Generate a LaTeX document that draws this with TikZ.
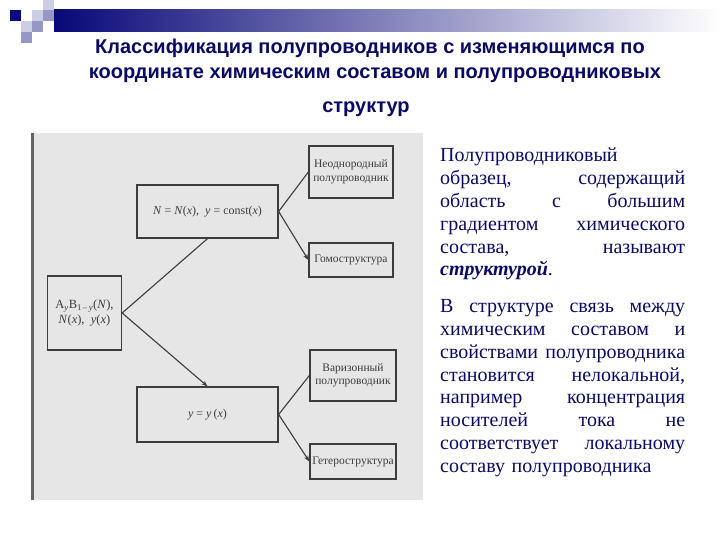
\documentclass[tikz,border=0pt]{standalone}
\usepackage{fontspec}
\setmainfont{Liberation Serif}
\newfontfamily\titlefont{Liberation Sans}
\usetikzlibrary{arrows.meta}
\definecolor{navytext}{RGB}{10,10,100}
\definecolor{barnavy}{RGB}{8,8,120}
\definecolor{sqnavy}{RGB}{10,10,130}
\definecolor{sqlight}{RGB}{205,205,230}
\definecolor{sqmid}{RGB}{150,150,200}
\definecolor{scanbg}{RGB}{230,230,230}
\definecolor{boxline}{RGB}{60,60,60}
\newcommand{\jl}[1]{\leavevmode\makebox[245pt][l]{#1}}
\newcommand{\gp}{\hfill\ }
\tikzset{
  schbox/.style={draw=boxline, line width=1.3pt, fill=scanbg, rectangle, inner sep=1pt, align=center, font=\fontsize{11.5}{13.5}\selectfont, text=boxline},
  conn/.style={draw=boxline, line width=1.1pt},
  arr/.style={conn, -{Stealth[length=6pt,width=4.5pt]}},
  titleline/.style={font=\titlefont\bfseries\fontsize{20}{23}\selectfont, text=navytext, inner sep=0pt}
}
\begin{document}
\begin{tikzpicture}[x=1pt,y=-1pt]
\useasboundingbox (0,0) rectangle (720,540);
% header decoration
\shade[left color=barnavy, right color=white] (54,10) rectangle (720,32);
\fill[sqnavy] (10,10) rectangle (21,21);
\fill[sqlight] (32,10) rectangle (43,21);
\fill[sqlight] (43,0) rectangle (54,10);
\fill[sqmid] (43,10) rectangle (54,21);
\fill[sqlight] (21,21) rectangle (32,32);
\fill[sqmid] (32,21) rectangle (43,32);
\fill[sqmid] (21,32) rectangle (32,43);
% title
\node[titleline] (t1) at (370,48) {Классификация полупроводников с изменяющимся по};
\node[titleline] (t2) at (375,75) {координате химическим составом и полупроводниковых};
\node[titleline] (t3) at (366,109) {структур};
% scanned figure background
\fill[scanbg] (33,133) rectangle (423,500);
\fill[boxline!80] (31,133) rectangle (34,500);
% boxes
\node[schbox, minimum width=74pt, minimum height=74pt, font=\fontsize{12.5}{15}\selectfont] (A) at (84.5,313)
  {A\textsubscript{\textit{y}}B\textsubscript{1\,–\,\textit{y}}(\textit{N}),\\\textit{N}(\textit{x}),\ \ \textit{y}(\textit{x})};
\node[schbox, minimum width=141pt, minimum height=53pt, font=\fontsize{12}{14}\selectfont] (top) at (207.5,211.5)
  {\textit{N} = \textit{N}(\textit{x}),\ \ \textit{y} = const(\textit{x})};
\node[schbox, minimum width=84pt, minimum height=52pt] (neod) at (351,172)
  {Неоднородный\\полупроводник};
\node[schbox, minimum width=84pt, minimum height=34pt] (gomo) at (351,260)
  {Гомоструктура};
\node[schbox, minimum width=141pt, minimum height=55pt, font=\fontsize{12}{14}\selectfont] (yx) at (207.5,414.5)
  {\textit{y} = \textit{y}\,(\textit{x})};
\node[schbox, minimum width=86pt, minimum height=51pt] (variz) at (353,375.5)
  {Варизонный\\полупроводник};
\node[schbox, minimum width=86pt, minimum height=35pt] (getero) at (353,461.5)
  {Гетероструктура};
% connectors
\draw[conn] (A.east) -- (top.south);
\draw[arr] (A.east) -- (yx.north);
\draw[conn] (top.east) -- (neod.west);
\draw[arr] (top.east) -- (gomo.west);
\draw[conn] (yx.east) -- (variz.west);
\draw[arr] (yx.east) -- (getero.west);
% right text
\node[anchor=north west, text width=245pt, inner sep=0pt, align=left,
      font=\fontsize{20}{22.8}\selectfont, text=navytext] (txt) at (440,148)
{Полупроводниковый\\
\jl{образец,\gp содержащий}\\
\jl{область\gp с\gp большим}\\
\jl{градиентом\gp химического}\\
\jl{состава,\gp называют}\\
\textbf{\textit{структурой}}.\\[14pt]
\jl{В\gp структуре\gp связь\gp между}\\
\jl{химическим\gp составом\gp и}\\
\jl{свойствами\gp полупроводника}\\
\jl{становится\gp нелокальной,}\\
\jl{например\gp концентрация}\\
\jl{носителей\gp тока\gp не}\\
\jl{соответствует\gp локальному}\\
составу полупроводника};
\end{tikzpicture}
\end{document}
